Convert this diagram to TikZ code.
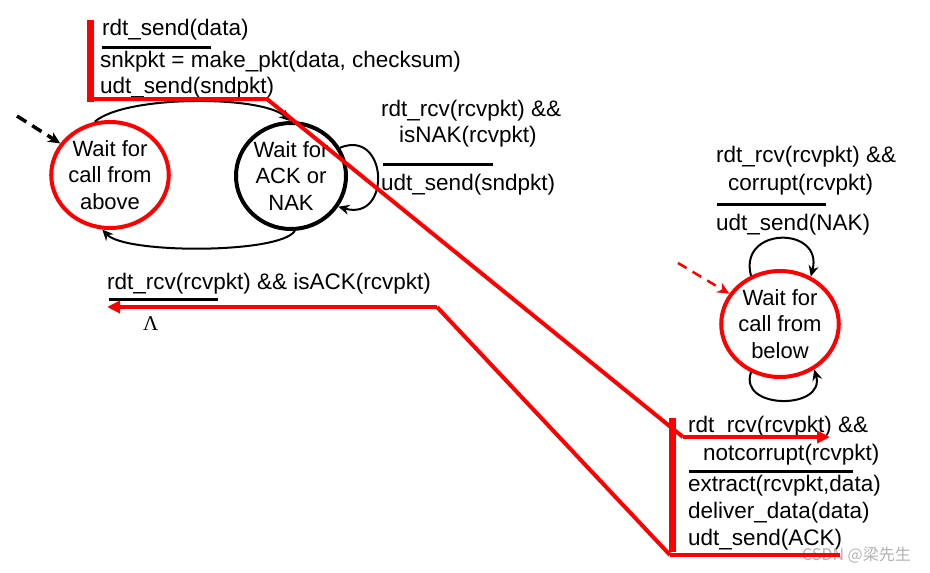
\documentclass[tikz,border=0pt]{standalone}
\usepackage{fontspec}
\setmainfont{Liberation Sans}
\newfontfamily\grserif{Liberation Serif}
\newfontfamily\cjkfont{Noto Sans CJK SC}
\usetikzlibrary{arrows.meta,shapes.geometric}
\begin{document}
\begin{tikzpicture}[x=1pt,y=-1pt,
  lbl/.style={font=\fontsize{22.5}{27}\selectfont, inner sep=0pt, anchor=base west},
  st/.style={ellipse, line width=4pt, align=center, inner sep=0pt,
    font=\fontsize{22}{26.5}\selectfont, minimum width=110pt, minimum height=106pt},
  arc/.style={line width=2pt, -{Stealth[length=11pt,width=10pt]}},
  rule/.style={line width=3pt},
  hl/.style={draw=red, line width=4pt},
  hlbar/.style={draw=red, line width=7pt},
  hlarrow/.style={draw=red, line width=4pt, -{Triangle[length=13pt,width=12pt]}}
]
\useasboundingbox (0,0) rectangle (930,573);

% states
\node[st, draw=red] (wa) at (110,175) {Wait for\\call from\\above};
\node[st, draw=black] (wk) at (291,176) {Wait for\\ACK or\\NAK};
\node[st, draw=red] (wb) at (780,324) {Wait for\\call from\\below};

% initial arrows
\coordinate (ia) at (17,116);
\coordinate (ib) at (678,263);
\draw[line width=3.5pt, dash pattern=on 11pt off 7pt, -{Stealth[length=12pt,width=11pt]}] (ia) -- (wa);
\draw[line width=2.5pt, red, dash pattern=on 10pt off 7pt, -{Stealth[length=12pt,width=11pt]}] (ib) -- (wb);

% transitions
\draw[arc] (wa.106) .. controls (125,95) and (262,95) .. (wk.91);
\draw[arc] (wk.-86) .. controls (280,254) and (125,254) .. (wa.-98);
\draw[arc] (wk.30) .. controls (388,128) and (392,222) .. (wk.-33);
\draw[arc] (wb.121) .. controls (738,226) and (824,226) .. (wb.57);
\draw[arc] (wb.-121) .. controls (738,410) and (826,410) .. (wb.-53);

% sender top label
\node[lbl] (t1) at (102,35) {rdt\_send(data)};
\node[lbl] (t2) at (100,67) {snkpkt = make\_pkt(data, checksum)};
\node[lbl] (t3) at (100,93) {udt\_send(sndpkt)};
\draw[rule] (102,47) -- (211,47);

% sender self loop label
\node[lbl] (m1) at (381,116) {rdt\_rcv(rcvpkt) \&\&};
\node[lbl] (m2) at (399,142) {isNAK(rcvpkt)};
\draw[rule] (383,164) -- (493,164);
\node[lbl] (m3) at (381,190) {udt\_send(sndpkt)};

% receiver top loop label
\node[lbl] (r1) at (716,162) {rdt\_rcv(rcvpkt) \&\&};
\node[lbl] (r2) at (728,190) {corrupt(rcvpkt)};
\draw[rule] (717,204) -- (826,204);
\node[lbl] (r3) at (716,230) {udt\_send(NAK)};

% receiver bottom label
\node[lbl] (b1) at (688,432) {rdt\_rcv(rcvpkt) \&\&};
\node[lbl] (b2) at (703,460) {notcorrupt(rcvpkt)};
\draw[rule] (689,471) -- (853,471);
\node[lbl] (b3) at (688,491) {extract(rcvpkt,data)};
\node[lbl] (b4) at (688,518) {deliver\_data(data)};
\node[lbl] (b5) at (688,545) {udt\_send(ACK)};

% ACK label
\node[lbl] (a1) at (107,289) {rdt\_rcv(rcvpkt) \&\& isACK(rcvpkt)};
\draw[rule] (109,299) -- (218,299);
\node[lbl, font=\grserif\fontsize{21}{25}\selectfont] (lam) at (143,330) {Λ};

% watermark
\node[anchor=west, inner sep=0pt, text=black!30, font=\cjkfont\fontsize{16}{18}\selectfont] (wm) at (802,555) {CSDN @梁先生};

% red highlight path 1 (sender -> receiver)
\coordinate (p1a) at (90,20);
\coordinate (p1b) at (90,99);
\coordinate (p1c) at (267,99);
\coordinate (p1d) at (683,437);
\coordinate (p1e) at (830,437);
\draw[hlbar] (p1a) -- (90,102);
\draw[hl, line join=round] (p1b) -- (p1c) -- (p1d);
\draw[hlarrow] (p1d) -- (p1e);

% red highlight path 2 (receiver -> sender)
\coordinate (p2a) at (672,418);
\coordinate (p2b) at (672,552);
\coordinate (p2c) at (840,555);
\coordinate (p2d) at (670,555);
\coordinate (p2e) at (437,307);
\coordinate (p2f) at (107,307);
\draw[hlbar] (p2a) -- (p2b);
\draw[hl] (p2c) -- (p2d);
\draw[hl, line join=round] (p2d) -- (p2e);
\draw[hlarrow] (p2e) -- (p2f);
\end{tikzpicture}
\end{document}
